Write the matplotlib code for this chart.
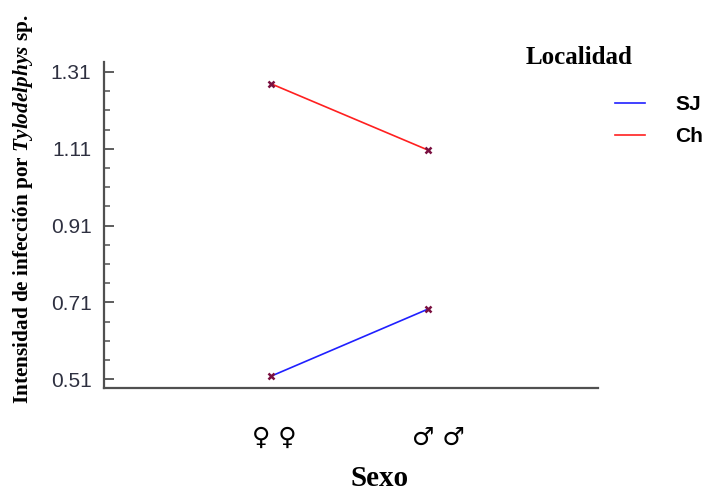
import numpy as np
import matplotlib.pyplot as plt
import matplotlib.transforms as mtransforms
from matplotlib.ticker import FixedLocator

plt.rcParams["mathtext.fontset"] = "custom"
plt.rcParams["mathtext.it"] = "Liberation Serif:italic:bold"
plt.rcParams["mathtext.rm"] = "Liberation Serif:bold"

# Datos: intensidad media por sexo y localidad
sexo = ["\u2640 \u2640", "\u2642 \u2642"]
localidades = ["SJ", "Ch"]
sj = [0.518, 0.692]
ch = [1.279, 1.107]
colores = ["#2020ff", "#ff2020"]
yticks = [0.51, 0.71, 0.91, 1.11, 1.31]

x = np.arange(len(sexo))

fig = plt.figure(figsize=(7.05, 4.91), dpi=100)
ax = fig.add_axes([0.1475, 0.2098, 0.7007, 0.6640])

lineas = []
for serie, nombre, c in zip([sj, ch], localidades, colores):
    l, = ax.plot(x, serie, color=c, lw=1.2, label=nombre, zorder=2)
    lineas.append(l)
    ax.plot(x, serie, ls="none", marker="x", ms=5, mew=1.8,
            color="#7a1040", zorder=3)

ax.set_xlim(-1.07, 2.09)
ax.set_ylim(0.487, 1.336)

ax.spines["top"].set_visible(False)
ax.spines["right"].set_visible(False)
for s in ["left", "bottom"]:
    ax.spines[s].set_color("#505050")
    ax.spines[s].set_linewidth(1.6)

ax.yaxis.set_major_locator(FixedLocator(yticks))
ax.yaxis.set_minor_locator(FixedLocator(np.arange(0.56, 1.31, 0.05)))
ax.set_yticklabels([f"{v:.2f}" for v in yticks])
ax.tick_params(axis="y", which="major", direction="in", length=7, width=1.3,
               color="#505050", pad=9, labelsize=15, labelcolor="#2e3040")
ax.tick_params(axis="y", which="minor", direction="in", length=4.5, width=1.1,
               color="#505050")
for t in ax.get_yticklabels():
    t.set_fontfamily("Liberation Sans")

ax.set_xticks(x)
ax.set_xticklabels(sexo, fontsize=18, fontfamily="DejaVu Sans")
ax.tick_params(axis="x", length=0, pad=27)
# las etiquetas de sexo quedan algo desplazadas a la derecha en el original
for t, dx in zip(ax.get_xticklabels(), [3, 11]):
    t.set_transform(t.get_transform() +
                    mtransforms.ScaledTranslation(dx / 100, 0, fig.dpi_scale_trans))

ax.set_xlabel("Sexo", fontsize=21, fontweight="bold", fontfamily="Liberation Serif")
ax.xaxis.set_label_coords(0.558, -0.235)
ax.set_ylabel("Intensidad de infección por $\\mathit{Tylodelphys}$ sp.",
              fontsize=15.3, fontweight="bold", fontfamily="Liberation Serif")
ax.yaxis.set_label_coords(-0.14, 0.549)

fig.text(0.746, 0.882, "Localidad", fontsize=18, fontweight="bold",
         fontfamily="Liberation Serif", va="center")

fig.legend(handles=lineas, loc="upper left", bbox_to_anchor=(0.872, 0.806),
           frameon=False, handlelength=1.45, handletextpad=1.45,
           labelspacing=0.62, borderpad=0, borderaxespad=0,
           prop={"family": "Liberation Sans", "weight": "bold", "size": 15})

fig.savefig("out.png", dpi=100)
